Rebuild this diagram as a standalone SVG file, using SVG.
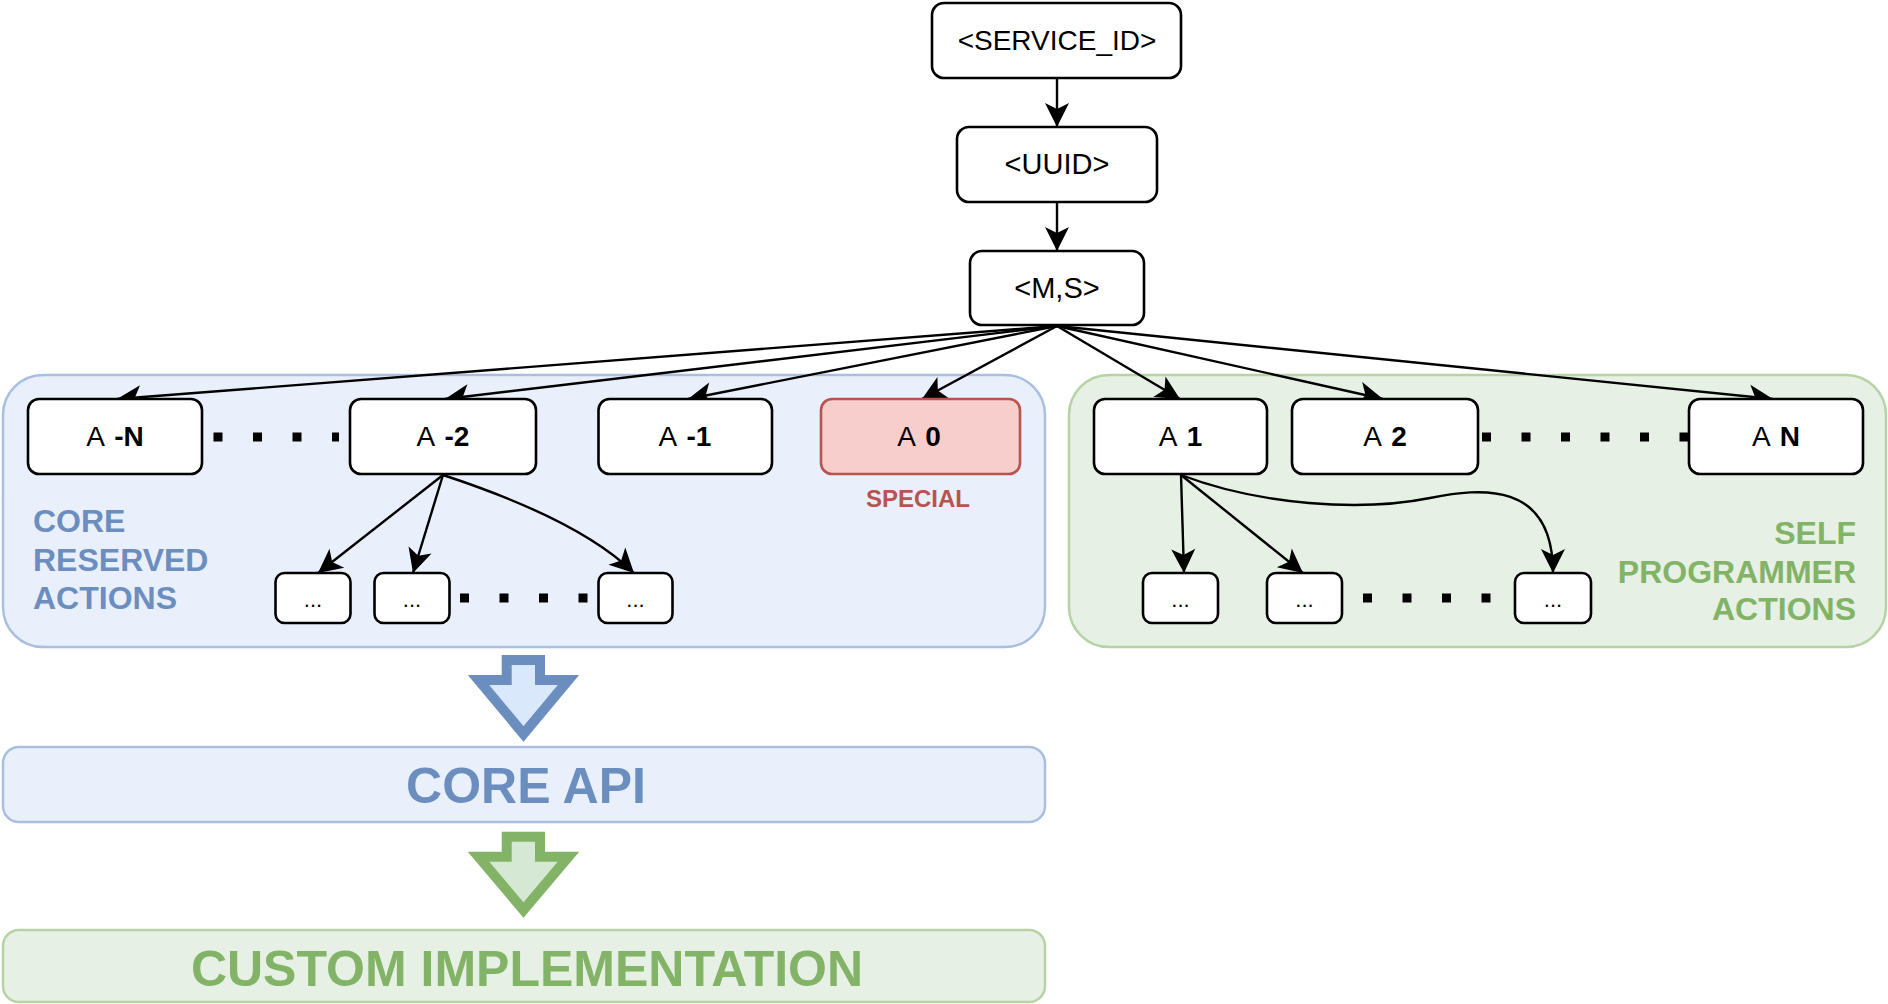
<svg xmlns="http://www.w3.org/2000/svg" width="1888" height="1004" viewBox="0 0 1888 1004">
<style>
.box{fill:#ffffff;stroke:#000000;stroke-width:2.6}
.sub{fill:#ffffff;stroke:#000000;stroke-width:2.6}
.t{font-family:"Liberation Sans",Arial,Helvetica,sans-serif;text-anchor:middle;fill:#000000}
.lbl{font-size:28px;word-spacing:3px}
.top{font-size:29px}
.b{font-weight:bold}
.dots{font-size:22px}
.edge{fill:none;stroke:#000000;stroke-width:2.4;marker-end:url(#arrow)}
.dash{stroke:#000000;stroke-width:9;stroke-dasharray:9 30.5;fill:none}
.blue{fill:#6c8ebf}
.green{fill:#82b366}
.big{font-family:"Liberation Sans",Arial,Helvetica,sans-serif;font-weight:bold}
</style>
<defs>
<marker id="arrow" markerUnits="userSpaceOnUse" viewBox="-25 -13 26 26" refX="0" refY="0" markerWidth="26" markerHeight="26" orient="auto">
<path d="M0,0 L-24,-12 L-18,0 L-24,12 Z" fill="#000000"/>
</marker>
</defs>

<g id="core-reserved">
<rect x="3" y="375" width="1042" height="272" rx="40" fill="#e9f0fb" stroke="#a9bfdf" stroke-width="2.5"/>
<text class="big blue" font-size="32" x="33" y="532">CORE</text>
<text class="big blue" font-size="32" x="33" y="571">RESERVED</text>
<text class="big blue" font-size="32" x="33" y="609">ACTIONS</text>
</g>

<g id="self-programmer">
<rect x="1069" y="375" width="817" height="272" rx="40" fill="#e6f0e5" stroke="#b5d3a5" stroke-width="2.5"/>
<text class="big green" font-size="32" x="1856" y="544" text-anchor="end">SELF</text>
<text class="big green" font-size="32" x="1856" y="583" text-anchor="end">PROGRAMMER</text>
<text class="big green" font-size="32" x="1856" y="620" text-anchor="end">ACTIONS</text>
</g>

<g id="connectors">
<line class="edge" x1="1057" y1="78" x2="1057" y2="127"/>
<line class="edge" x1="1057" y1="202" x2="1057" y2="251"/>
<line class="edge" x1="1057" y1="326" x2="117" y2="399"/>
<line class="edge" x1="1057" y1="326" x2="445" y2="399"/>
<line class="edge" x1="1057" y1="326" x2="688" y2="399"/>
<line class="edge" x1="1057" y1="326" x2="922" y2="399"/>
<line class="edge" x1="1057" y1="326" x2="1180" y2="399"/>
<line class="edge" x1="1057" y1="326" x2="1383" y2="399"/>
<line class="edge" x1="1057" y1="326" x2="1773" y2="399"/>
<line class="edge" x1="443" y1="475" x2="318" y2="573"/>
<line class="edge" x1="443" y1="475" x2="413" y2="573"/>
<path class="edge" d="M443,475 Q580,520 634,573"/>
<line class="edge" x1="1181" y1="475" x2="1184" y2="573"/>
<line class="edge" x1="1181" y1="475" x2="1303" y2="573"/>
<path class="edge" d="M1181,475 C1260,505 1360,512 1430,498 C1480,488 1553,480 1553,573"/>
<line class="dash" x1="213.5" y1="437" x2="339" y2="437"/>
<line class="dash" x1="1482" y1="437" x2="1689" y2="437"/>
<line class="dash" x1="460" y1="598" x2="588" y2="598"/>
<line class="dash" x1="1363" y1="598" x2="1491" y2="598"/>
</g>

<g id="service-id">
<rect class="box" x="932" y="3" width="249" height="75" rx="12"/>
<text class="t" font-size="28" x="1057" y="50">&lt;SERVICE_ID&gt;</text>
</g>
<g id="uuid">
<rect class="box" x="957" y="127" width="200" height="75" rx="12"/>
<text class="t top" x="1057" y="174">&lt;UUID&gt;</text>
</g>
<g id="ms">
<rect class="box" x="970" y="251" width="174" height="74" rx="12"/>
<text class="t top" x="1057" y="298">&lt;M,S&gt;</text>
</g>

<g id="a-minus-n">
<rect class="box" x="28" y="399" width="174" height="75" rx="11"/>
<text class="t lbl" x="115" y="446">A <tspan class="b">-N</tspan></text>
</g>
<g id="a-minus-2">
<rect class="box" x="350" y="399" width="186" height="75" rx="11"/>
<text class="t lbl" x="443" y="446">A <tspan class="b">-2</tspan></text>
</g>
<g id="a-minus-1">
<rect class="box" x="598.5" y="399" width="173.5" height="75" rx="11"/>
<text class="t lbl" x="685" y="446">A <tspan class="b">-1</tspan></text>
</g>
<g id="a-0">
<rect x="821" y="399" width="199" height="75" rx="11" fill="#f8cecc" stroke="#b85450" stroke-width="2.6"/>
<text class="t lbl" x="919" y="446">A <tspan class="b">0</tspan></text>
<text class="big" font-size="24" x="918" y="506.5" text-anchor="middle" fill="#b85450">SPECIAL</text>
</g>
<g id="a-1">
<rect class="box" x="1094" y="399" width="173" height="75" rx="11"/>
<text class="t lbl" x="1180.5" y="446">A <tspan class="b">1</tspan></text>
</g>
<g id="a-2">
<rect class="box" x="1292" y="399" width="186" height="75" rx="11"/>
<text class="t lbl" x="1385" y="446">A <tspan class="b">2</tspan></text>
</g>
<g id="a-n">
<rect class="box" x="1689" y="399" width="174" height="75" rx="11"/>
<text class="t lbl" x="1776" y="446">A <tspan class="b">N</tspan></text>
</g>

<g id="core-sub-1"><rect class="sub" x="275.5" y="573" width="75" height="50" rx="9"/><text class="t dots" x="313" y="607">...</text></g>
<g id="core-sub-2"><rect class="sub" x="374.5" y="573" width="75" height="50" rx="9"/><text class="t dots" x="412" y="607">...</text></g>
<g id="core-sub-3"><rect class="sub" x="598.5" y="573" width="74" height="50" rx="9"/><text class="t dots" x="635.5" y="607">...</text></g>
<g id="self-sub-1"><rect class="sub" x="1143" y="573" width="75" height="50" rx="9"/><text class="t dots" x="1180.5" y="607">...</text></g>
<g id="self-sub-2"><rect class="sub" x="1267" y="573" width="75" height="50" rx="9"/><text class="t dots" x="1304.5" y="607">...</text></g>
<g id="self-sub-3"><rect class="sub" x="1515" y="573" width="76" height="50" rx="9"/><text class="t dots" x="1553" y="607">...</text></g>

<g id="arrow-core">
<path d="M506.7,660 H540 V680 H568.5 L523.5,734 L478.5,680 H506.7 Z" fill="#dae8fc" stroke="#6c8ebf" stroke-width="10" stroke-linejoin="miter"/>
</g>
<g id="core-api">
<rect x="3" y="747" width="1042" height="75" rx="16" fill="#e9f0fb" stroke="#a9bfdf" stroke-width="2.5"/>
<text class="big blue" font-size="50" x="526" y="803" text-anchor="middle">CORE API</text>
</g>
<g id="arrow-custom">
<path d="M506.7,836.7 H540 V856.7 H568.5 L523.5,910 L478.5,856.7 H506.7 Z" fill="#d5e8d4" stroke="#82b366" stroke-width="10" stroke-linejoin="miter"/>
</g>
<g id="custom-implementation">
<rect x="3" y="930" width="1042" height="72" rx="16" fill="#e6f0e5" stroke="#b5d3a5" stroke-width="2.5"/>
<text class="big green" font-size="50" x="527" y="986" text-anchor="middle">CUSTOM IMPLEMENTATION</text>
</g>
</svg>
